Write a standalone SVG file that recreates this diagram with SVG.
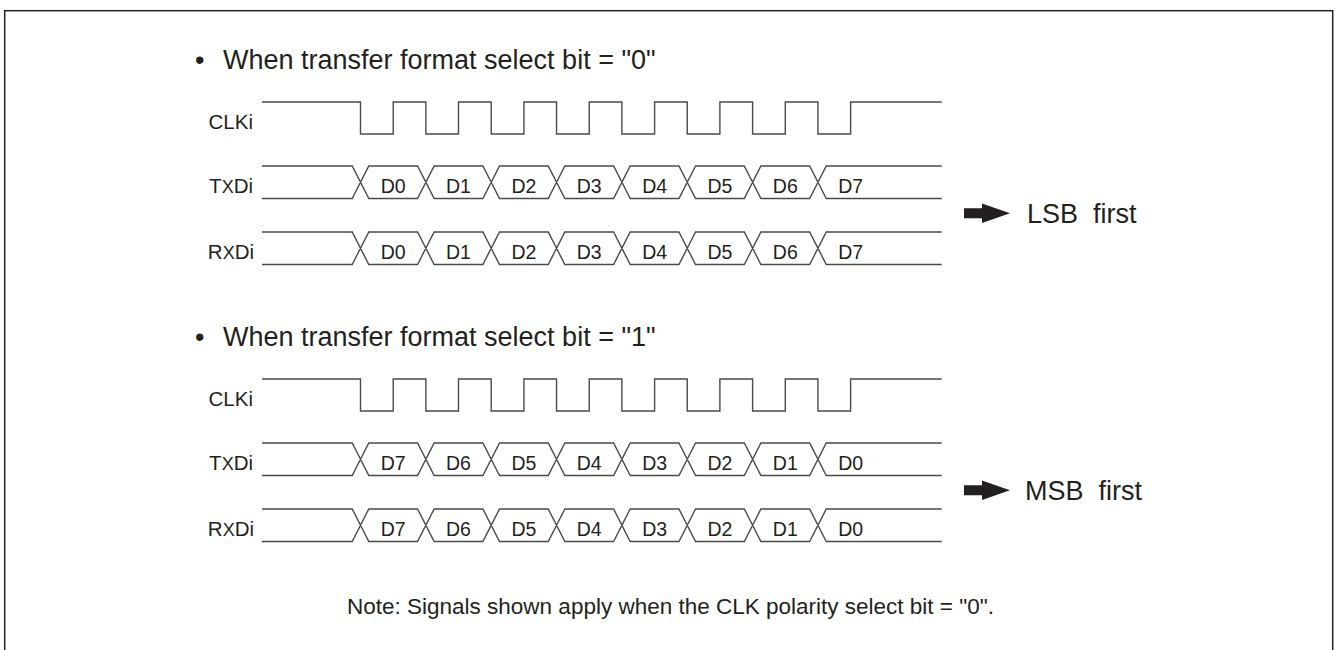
<svg xmlns="http://www.w3.org/2000/svg" xmlns:xlink="http://www.w3.org/1999/xlink" width="1335" height="650" viewBox="0 0 1335 650">
<style>
  text { font-family: "Liberation Sans", Arial, sans-serif; fill: #231f20; }
  .title { font-size: 27px; }
  .sig { font-size: 20.5px; text-anchor: end; }
  .sm { font-size: 18px; }
  .d { font-size: 19.5px; text-anchor: middle; }
  .big { font-size: 27px; white-space: pre; }
  .note { font-size: 22.5px; }
  .wave { fill: none; stroke: #4a4a4a; stroke-width: 1.4; stroke-linejoin: miter; }
  .frame { fill: none; stroke: #222; stroke-width: 1.5; }
  .arrow { fill: #231f20; stroke: none; }
</style>
<defs>
  <path id="clk" d="M262,0 H360.5 V32 H393.2 V0 H425.85 V32 H458.5 V0 H491.2 V32 H523.9 V0 H556.55 V32 H589.25 V0 H621.9 V32 H654.6 V0 H687.25 V32 H719.9 V0 H752.6 V32 H785.3 V0 H817.95 V32 H850.6 V0 H941.7"/>
  <path id="bus" d="M262,0 H352.2 L368.8,32.5 H417.55 L434.15,0 H482.9 L499.5,32.5 H548.25 L564.85,0 H613.6 L630.2,32.5 H678.95 L695.55,0 H744.3 L760.9,32.5 H809.65 L826.25,0 H941.7 M262,32.5 H352.2 L368.8,0 H417.55 L434.15,32.5 H482.9 L499.5,0 H548.25 L564.85,32.5 H613.6 L630.2,0 H678.95 L695.55,32.5 H744.3 L760.9,0 H809.65 L826.25,32.5 H941.7"/>
</defs>

<rect class="frame" x="4.7" y="10.7" width="1328" height="700"/>

<g id="title-lsb">
  <text class="title" y="69"><tspan x="195">•</tspan><tspan x="223">When transfer format select bit = "0"</tspan></text>
</g>

<g id="clk1">
  <text class="sig" x="253" y="129">CLKi</text>
  <use xlink:href="#clk" class="wave" transform="translate(0,102)"/>
</g>
<g id="txd1">
  <text class="sig" x="253" y="193">T<tspan class="sm">X</tspan>Di</text>
  <use xlink:href="#bus" class="wave" transform="translate(0,166)"/>
  <text class="d" y="193"><tspan x="393.2">D0</tspan><tspan x="458.5">D1</tspan><tspan x="523.9">D2</tspan><tspan x="589.25">D3</tspan><tspan x="654.6">D4</tspan><tspan x="719.9">D5</tspan><tspan x="785.3">D6</tspan><tspan x="850.6">D7</tspan></text>
</g>
<g id="rxd1">
  <text class="sig" x="254" y="259">R<tspan class="sm">X</tspan>Di</text>
  <use xlink:href="#bus" class="wave" transform="translate(0,232)"/>
  <text class="d" y="258.5"><tspan x="393.2">D0</tspan><tspan x="458.5">D1</tspan><tspan x="523.9">D2</tspan><tspan x="589.25">D3</tspan><tspan x="654.6">D4</tspan><tspan x="719.9">D5</tspan><tspan x="785.3">D6</tspan><tspan x="850.6">D7</tspan></text>
</g>
<g id="lsb-first">
  <text class="big" x="1027" y="222.7" xml:space="preserve">LSB  first</text>
</g>

<g id="title-msb">
  <text class="title" y="346"><tspan x="195">•</tspan><tspan x="223">When transfer format select bit = "1"</tspan></text>
</g>

<g id="clk2">
  <text class="sig" x="253" y="406">CLKi</text>
  <use xlink:href="#clk" class="wave" transform="translate(0,379)"/>
</g>
<g id="txd2">
  <text class="sig" x="253" y="470">T<tspan class="sm">X</tspan>Di</text>
  <use xlink:href="#bus" class="wave" transform="translate(0,443)"/>
  <text class="d" y="470"><tspan x="393.2">D7</tspan><tspan x="458.5">D6</tspan><tspan x="523.9">D5</tspan><tspan x="589.25">D4</tspan><tspan x="654.6">D3</tspan><tspan x="719.9">D2</tspan><tspan x="785.3">D1</tspan><tspan x="850.6">D0</tspan></text>
</g>
<g id="rxd2">
  <text class="sig" x="254" y="536">R<tspan class="sm">X</tspan>Di</text>
  <use xlink:href="#bus" class="wave" transform="translate(0,509)"/>
  <text class="d" y="535.5"><tspan x="393.2">D7</tspan><tspan x="458.5">D6</tspan><tspan x="523.9">D5</tspan><tspan x="589.25">D4</tspan><tspan x="654.6">D3</tspan><tspan x="719.9">D2</tspan><tspan x="785.3">D1</tspan><tspan x="850.6">D0</tspan></text>
</g>
<g id="msb-first">
  <text class="big" x="1025" y="499.7" xml:space="preserve">MSB  first</text>
</g>

<g id="note">
  <text class="note" x="347" y="613.5">Note: Signals shown apply when the CLK polarity select bit = "0".</text>
</g>

<g id="connectors">
  <polygon class="arrow" points="964,208.3 982,208.3 982,203.5 1010,213.3 982,223 982,218.3 964,218.3"/>
  <polygon class="arrow" points="964,485.3 982,485.3 982,480.5 1010,490.3 982,500 982,495.3 964,495.3"/>
</g>
</svg>
